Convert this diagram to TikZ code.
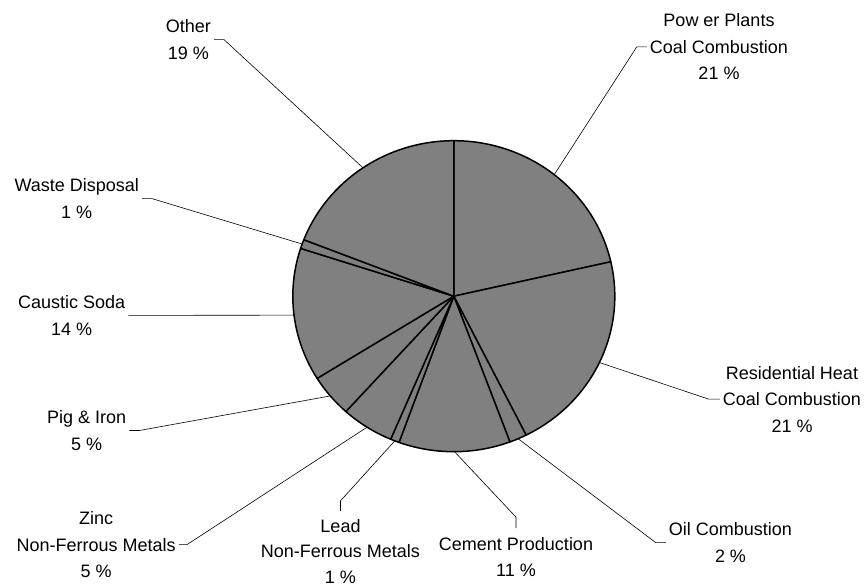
\documentclass[tikz,border=0pt]{standalone}
\usepackage{fontspec}
\setmainfont{Liberation Sans}
\usetikzlibrary{calc}
\definecolor{sliceGray}{RGB}{128,128,128}
\newcommand\pieslice[2]{\draw[slice] (c) -- ($(c)+(#1:161pt and 155.5pt)$) arc[start angle=#1, end angle=#2, x radius=161pt, y radius=155.5pt] -- cycle;}
\begin{document}
\begin{tikzpicture}[x=1pt,y=1pt,
  slice/.style={fill=sliceGray, draw=black, line width=1.5pt, line join=round},
  leader/.style={draw=black, line width=0.6pt},
  lbl/.style={align=center, inner sep=3pt, text=black, font=\fontsize{18}{26.5}\selectfont}]
\useasboundingbox (0,0) rectangle (866,586);
\coordinate (c) at (453.8,289.8);
% points on the pie rim at slice mid-angles
\coordinate (pPower)   at ($(c)+(51.4:161pt and 155.5pt)$);
\coordinate (pResid)   at ($(c)+(-25.25:161pt and 155.5pt)$);
\coordinate (pOil)     at ($(c)+(-66.45:161pt and 155.5pt)$);
\coordinate (pCement)  at ($(c)+(-89.75:161pt and 155.5pt)$);
\coordinate (pLead)    at ($(c)+(-111.5:161pt and 155.5pt)$);
\coordinate (pZinc)    at ($(c)+(-122.6:161pt and 155.5pt)$);
\coordinate (pPig)     at ($(c)+(-140.1:161pt and 155.5pt)$);
\coordinate (pCaustic) at ($(c)+(-173:161pt and 155.5pt)$);
\coordinate (pWaste)   at ($(c)+(160.4:161pt and 155.5pt)$);
\coordinate (pOther)   at ($(c)+(124.35:161pt and 155.5pt)$);
% labels
\node[lbl] (other)   at (188.3,546.35) {Other\\19 \%};
\node[lbl] (power)   at (719,539.15) {Pow er Plants\\Coal Combustion\\21 \%};
\node[lbl] (resid)   at (792,186.85) {Residential Heat\\Coal Combustion\\21 \%};
\node[lbl] (oil)     at (730.5,43.35) {Oil Combustion\\2 \%};
\node[lbl] (cement)  at (516,28.85) {Cement Production\\11 \%};
\node[lbl, font=\fontsize{18}{25.8}\selectfont] (lead) at (340.5,34.6) {Lead\\Non-Ferrous Metals\\1 \%};
\node[lbl] (zinc)    at (96.2,41.35) {Zinc\\Non-Ferrous Metals\\5 \%};
\node[lbl] (pig)     at (86.7,155.5) {Pig \& Iron\\5 \%};
\node[lbl] (caustic) at (71.7,270.6) {Caustic Soda\\14 \%};
\node[lbl] (waste)   at (76.7,387.35) {Waste Disposal\\1 \%};
% leaders
\draw[leader] (other.east) -- ++(10,0) -- (pOther);
\draw[leader] (power.west) -- ++(-10,0) -- (pPower);
\draw[leader] (resid.west) -- ++(-11,0) -- (pResid);
\draw[leader] (oil.west) -- ++(-10,0) -- (pOil);
\draw[leader] ([yshift=6pt]cement.north) -- ++(0,11) -- (pCement);
\draw[leader] ([yshift=5pt]lead.north) -- ++(0,10) -- (pLead);
\draw[leader] (zinc.east) -- ++(8,0) -- (pZinc);
\draw[leader] (pig.east) -- ++(10,0) -- (pPig);
\draw[leader] (caustic.east) -- (pCaustic);
\draw[leader] (waste.east) -- ++(10,0) -- (pWaste);
% slices
\pieslice{90}{12.8}
\pieslice{12.8}{-63.3}
\pieslice{-63.3}{-69.6}
\pieslice{-69.6}{-109.9}
\pieslice{-109.9}{-113.1}
\pieslice{-113.1}{-132.1}
\pieslice{-132.1}{-148.1}
\pieslice{-148.1}{-197.9}
\pieslice{-197.9}{-201.3}
\pieslice{-201.3}{-270}
\end{tikzpicture}
\end{document}
